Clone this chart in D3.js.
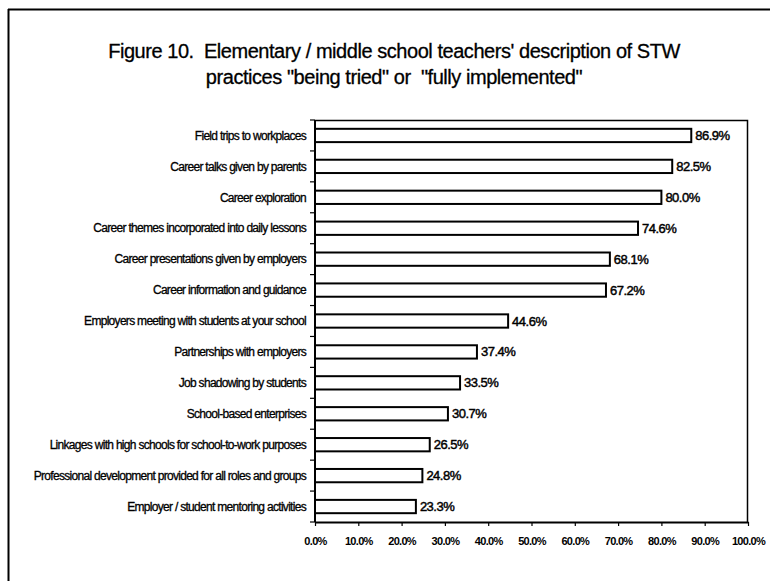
<!DOCTYPE html>
<html>
<head>
<meta charset="utf-8">
<script src="https://cdn.jsdelivr.net/npm/d3@7"></script>
<style>
  body { margin: 0; background: #fff; }
  svg { display: block; }
</style>
</head>
<body>
<svg id="chart" width="770" height="581"></svg>
<script>
// STW practices reported by elementary / middle school teachers
const practices = [
  "Field trips to workplaces",
  "Career talks given by parents",
  "Career exploration",
  "Career themes incorporated into daily lessons",
  "Career presentations given by employers",
  "Career information and guidance",
  "Employers meeting with students at your school",
  "Partnerships with employers",
  "Job shadowing by students",
  "School-based enterprises",
  "Linkages with high schools for school-to-work purposes",
  "Professional development provided for all roles and groups",
  "Employer / student mentoring activities"
];
const percents = [86.9, 82.5, 80.0, 74.6, 68.1, 67.2, 44.6, 37.4, 33.5, 30.7, 26.5, 24.8, 23.3];
const xTicks = [0, 10, 20, 30, 40, 50, 60, 70, 80, 90, 100];
const titleLines = [
  "Figure 10.  Elementary / middle school teachers' description of STW",
  "practices \"being tried\" or  \"fully implemented\""
];

const svg = d3.select("#chart");
const plot = { left: 315, top: 120, right: 748, bottom: 522 };
const narrow = "'Liberation Sans Narrow', 'Arial Narrow', 'Liberation Sans', sans-serif";

// outer frame (left and top edges)
svg.append("line").attr("x1", 8.5).attr("x2", 8.5).attr("y1", 9).attr("y2", 581)
  .attr("stroke", "#000").attr("stroke-width", 2);
svg.append("line").attr("x1", 8).attr("x2", 770).attr("y1", 9.5).attr("y2", 9.5)
  .attr("stroke", "#000").attr("stroke-width", 2);

// title (keeps its double spaces)
svg.append("g").selectAll("text").data(titleLines).join("text")
  .attr("x", 394).attr("y", (d, i) => 58 + i * 26)
  .attr("text-anchor", "middle")
  .attr("font-family", narrow)
  .attr("font-size", 20)
  .attr("letter-spacing", -0.45)
  .attr("stroke", "#000").attr("stroke-width", 0.3)
  .style("white-space", "pre")
  .text(d => d);

const x = d3.scaleLinear().domain([0, 100]).range([plot.left, plot.right]);
const y = d3.scaleBand().domain(practices).range([plot.top, plot.bottom]).paddingInner(0.57).paddingOuter(0.285);

// plot area top and right edges
svg.append("path")
  .attr("d", `M${plot.left},${plot.top + 0.5}H${plot.right - 0.5}V${plot.bottom}`)
  .attr("fill", "none").attr("stroke", "#000").attr("stroke-width", 1.5);

// bars
svg.append("g").selectAll("rect").data(percents).join("rect")
  .attr("x", x(0))
  .attr("y", (d, i) => y(practices[i]))
  .attr("width", d => x(d) - x(0))
  .attr("height", y.bandwidth())
  .attr("fill", "#fff").attr("stroke", "#000").attr("stroke-width", 2);

// value labels
svg.append("g").selectAll("text").data(percents).join("text")
  .attr("x", d => x(d) + 4)
  .attr("y", (d, i) => y(practices[i]) + y.bandwidth() / 2)
  .attr("dy", "0.35em")
  .attr("font-family", narrow)
  .attr("font-size", 13)
  .attr("letter-spacing", -0.5)
  .attr("stroke", "#000").attr("stroke-width", 0.45)
  .text(d => d.toFixed(1) + "%");

// category axis with ticks on band boundaries
const yAxis = svg.append("g").attr("transform", `translate(${plot.left},0)`);
yAxis.append("line").attr("x1", 0).attr("x2", 0).attr("y1", plot.top).attr("y2", plot.bottom)
  .attr("stroke", "#000").attr("stroke-width", 2);
const bounds = d3.range(practices.length + 1).map(i => plot.top + i * y.step());
yAxis.selectAll(".bt").data(bounds).join("line").attr("class", "bt")
  .attr("x1", -5).attr("x2", 0).attr("y1", d => d).attr("y2", d => d)
  .attr("stroke", "#000").attr("stroke-width", 1.2);
yAxis.selectAll("text").data(practices).join("text")
  .attr("x", -9)
  .attr("y", d => y(d) + y.bandwidth() / 2)
  .attr("dy", "0.35em")
  .attr("text-anchor", "end")
  .attr("font-family", narrow)
  .attr("font-size", 12)
  .attr("letter-spacing", -0.7)
  .attr("stroke", "#000").attr("stroke-width", 0.3)
  .text(d => d);

// percent axis
const xAxis = svg.append("g").attr("transform", `translate(0,${plot.bottom})`)
  .call(d3.axisBottom(x).tickValues(xTicks).tickSize(4).tickSizeOuter(0).tickFormat(d => d.toFixed(1) + "%"));
xAxis.select(".domain").attr("stroke-width", 2);
xAxis.selectAll(".tick line").attr("stroke-width", 1.2);
xAxis.selectAll("text")
  .attr("y", 15)
  .attr("font-family", narrow)
  .attr("font-size", 11)
  .attr("font-weight", "bold")
  .attr("letter-spacing", -0.7)
  .attr("fill", "#000");
</script>
</body>
</html>
